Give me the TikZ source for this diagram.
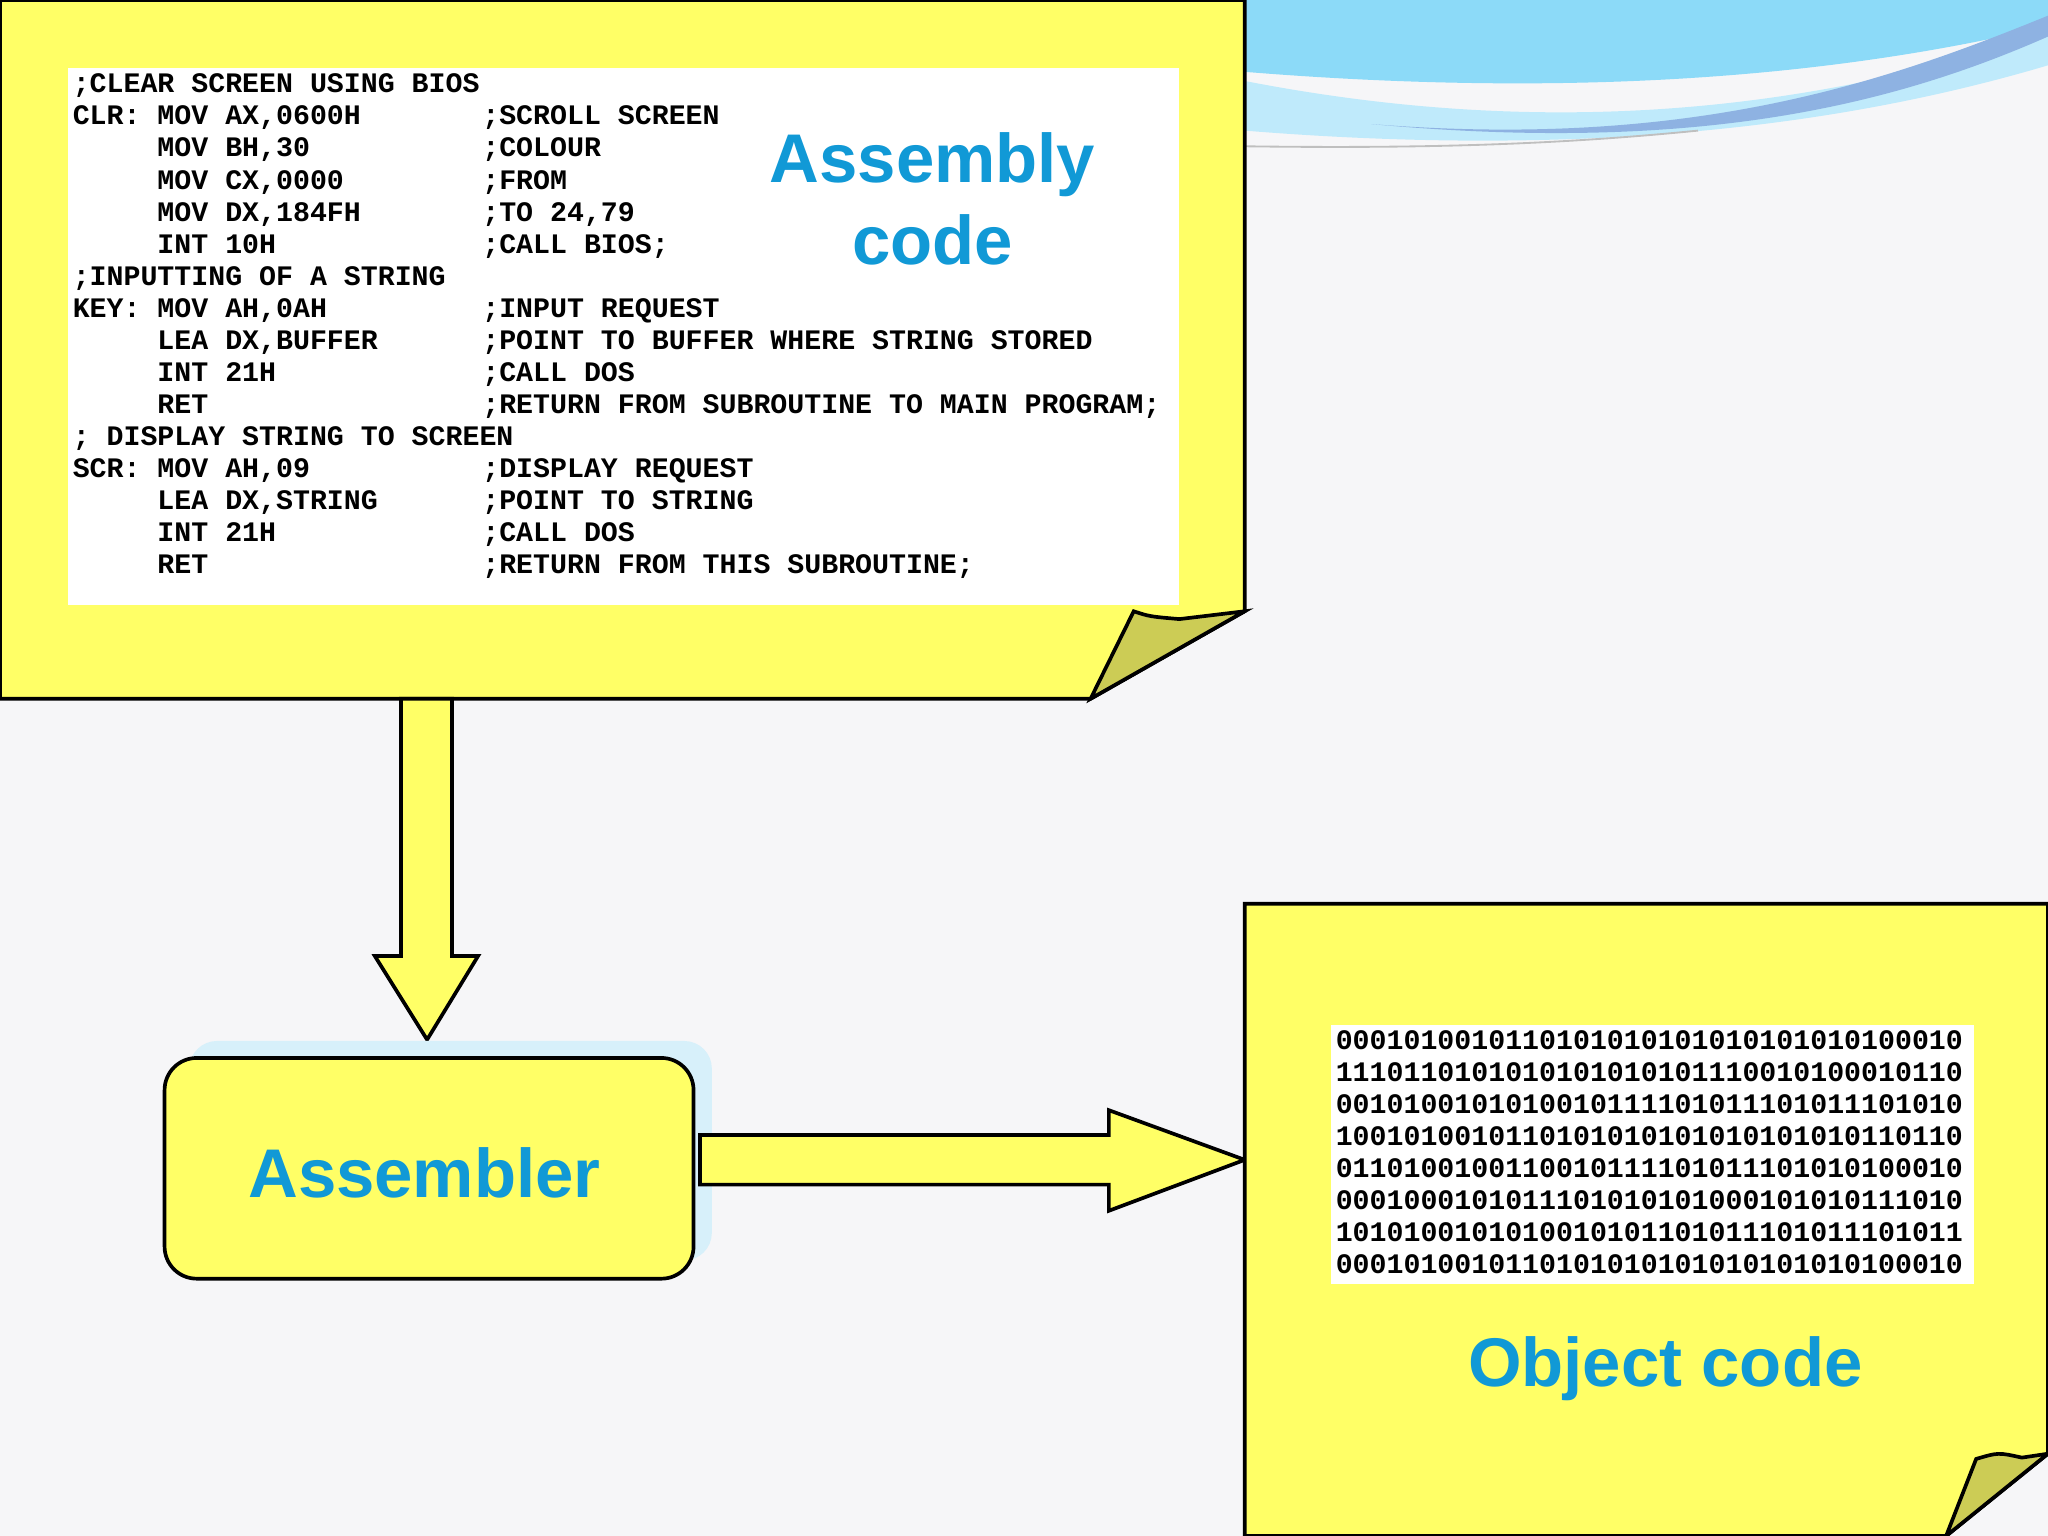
\documentclass[tikz,border=0pt]{standalone}
\usepackage{fontspec}
\setmainfont{Liberation Sans}
\newfontfamily\codefont{Liberation Mono}
\newcommand{\cl}[2]{\makebox[14.5em][l]{#1}#2}
\newcommand{\ind}{\hspace*{3em}}
\begin{document}
\begin{tikzpicture}[x=0.01cm,y=-0.01cm,
  note/.style={fill=noteyellow,draw=black,line width=0.8pt},
  fold/.style={fill=foldolive,draw=black,line width=0.8pt},
  arr/.style={fill=noteyellow,draw=black,line width=0.8pt},
  big/.style={font=\fontsize{15pt}{18pt}\selectfont\bfseries,text=titleblue},
  code/.style={font=\codefont\bfseries\fontsize{6.15pt}{6.97pt}\selectfont,align=left,inner sep=0pt}]
\definecolor{noteyellow}{RGB}{255,255,102}
\definecolor{foldolive}{RGB}{204,204,85}
\definecolor{titleblue}{RGB}{17,153,214}
\definecolor{bg}{RGB}{246,246,248}
\definecolor{shadowc}{RGB}{215,240,250}
\useasboundingbox (0,0) rectangle (1568,1176);
\fill[bg] (0,0) rectangle (1568,1176);
% swoosh
\fill[cyan!45!white] (953,0) -- (1568,0) -- (1568,20) .. controls (1400,60) and (1200,75) .. (953,55) -- cycle;
\fill[cyan!25!white] (953,62) .. controls (1200,110) and (1400,80) .. (1568,25) -- (1568,50) .. controls (1400,100) and (1200,120) .. (953,100) -- cycle;
\fill[cyan!55!blue!45!white] (1050,95) .. controls (1300,115) and (1450,60) .. (1568,12) -- (1568,28) .. controls (1450,80) and (1300,118) .. (1050,95) -- cycle;
\draw[gray!50] (953,112) .. controls (1100,114) and (1200,110) .. (1300,100);
% top note
\draw[note] (0,0) -- (953,0) -- (953,468) -- (835,535) -- (0,535) -- cycle;
\draw[fold] (835,535) -- (868,468) .. controls (880,472) .. (903,474) -- (953,468) -- cycle;
\fill[white] (52,52) rectangle (903,463);
\node[code,anchor=north west] (asm) at (55,56) {%
;CLEAR SCREEN USING BIOS\\
\cl{CLR: MOV AX,0600H}{;SCROLL SCREEN}\\
\cl{\ind MOV BH,30}{;COLOUR}\\
\cl{\ind MOV CX,0000}{;FROM}\\
\cl{\ind MOV DX,184FH}{;TO 24,79}\\
\cl{\ind INT 10H}{;CALL BIOS;}\\
;INPUTTING OF A STRING\\
\cl{KEY: MOV AH,0AH}{;INPUT REQUEST}\\
\cl{\ind LEA DX,BUFFER}{;POINT TO BUFFER WHERE STRING STORED}\\
\cl{\ind INT 21H}{;CALL DOS}\\
\cl{\ind RET}{;RETURN FROM SUBROUTINE TO MAIN PROGRAM;}\\
; DISPLAY STRING TO SCREEN\\
\cl{SCR: MOV AH,09}{;DISPLAY REQUEST}\\
\cl{\ind LEA DX,STRING}{;POINT TO STRING}\\
\cl{\ind INT 21H}{;CALL DOS}\\
\cl{\ind RET}{;RETURN FROM THIS SUBROUTINE;}};
\node[big,align=center,font=\fontsize{15pt}{17.8pt}\selectfont\bfseries] (asmtitle) at (714,152) {Assembly\\code};
% down arrow
\draw[arr] (307,535) -- (346,535) -- (346,732) -- (366,732) -- (327,796) -- (287,732) -- (307,732) -- cycle;
% assembler
\fill[shadowc,rounded corners=6pt] (145,797) rectangle (545,965);
\draw[fill=noteyellow,line width=0.8pt,rounded corners=7pt] (126,810) rectangle (531,979);
\node[big] (asmtext) at (325,898) {Assembler};
% right arrow
\draw[arr] (536,869) -- (849,869) -- (849,850) -- (953,888) -- (849,927) -- (849,907) -- (536,907) -- cycle;
% bottom note
\draw[note] (953,692) -- (1568,692) -- (1568,1113) -- (1490,1176) -- (953,1176) -- cycle;
\draw[fold] (1490,1176) -- (1513,1117) .. controls (1530,1112) .. (1548,1116) -- (1568,1113) -- cycle;
\fill[white] (1019,785) rectangle (1511,983);
\node[code,anchor=north west] (obj) at (1022,788) {%
0001010010110101010101010101010100010\\
1110110101010101010101110010100010110\\
0010100101010010111101011101011101010\\
1001010010110101010101010101010110110\\
0110100100110010111101011101010100010\\
0001000101011101010101000101010111010\\
1010100101010010101101011101011101011\\
0001010010110101010101010101010100010};
\node[big] (objtitle) at (1275,1048) {Object code};
\end{tikzpicture}
\end{document}
